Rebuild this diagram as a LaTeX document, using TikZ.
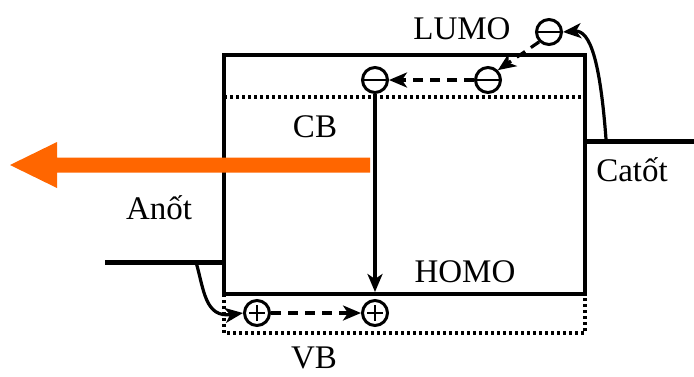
\documentclass[tikz,border=0pt]{standalone}
\usepackage{fontspec}
\setmainfont{Liberation Serif}
\usetikzlibrary{arrows.meta}
\begin{document}
\begin{tikzpicture}[x=1pt,y=-1pt,
  lbl/.style={inner sep=0pt,font=\fontsize{33}{36}\selectfont},
  boxline/.style={line width=3.4pt},
  wire/.style={line width=5pt},
  dots/.style={line width=3.2pt,dash pattern=on 3pt off 3pt},
  carrier/.style={circle,draw,line width=3pt,minimum size=25pt,inner sep=0pt},
  elec/.style={carrier,path picture={\draw[line width=2.6pt] ([xshift=-13pt]path picture bounding box.center) -- ([xshift=13pt]path picture bounding box.center);}},
  hole/.style={carrier,path picture={\draw[line width=2.4pt] ([xshift=-8pt]path picture bounding box.center) -- ([xshift=8pt]path picture bounding box.center) ([yshift=-8pt]path picture bounding box.center) -- ([yshift=8pt]path picture bounding box.center);}},
  tip/.style={-{Stealth[length=18pt,width=15pt,inset=5pt]}},
  dsh/.style={tip,line width=3.2pt,dash pattern=on 10pt off 7pt},
  sol/.style={tip,line width=3.2pt}]
\useasboundingbox (0,0) rectangle (694,376);
% box
\coordinate (tl) at (224,55);
\coordinate (br) at (585,294);
\draw[boxline] (tl) rectangle (br);
\coordinate (cbl) at (224,97);
\coordinate (cbr) at (585,97);
\draw[dots] (cbl) -- (cbr);
\coordinate (vbtl) at (224,294);
\coordinate (vbbr) at (585,333);
\draw[dots] (vbtl) -- (224,333) -- (585,333) -- (585,294);
% electrodes
\coordinate (catA) at (585,141);
\coordinate (catB) at (694,141);
\draw[wire] (catA) -- (catB);
\coordinate (anA) at (105,262);
\coordinate (anB) at (224,262);
\draw[wire] (anA) -- (anB);
% orange arrow
\fill[fill={rgb,255:red,255;green,102;blue,0}]
  (370,157.5) -- (57,157.5) -- (57,142) -- (10,165) -- (57,188) -- (57,172.5) -- (370,172.5) -- cycle;
% carriers
\node[elec] (e0) at (549,32) {};
\node[elec] (e1) at (488,80) {};
\node[elec] (e2) at (375,80) {};
\node[hole] (h1) at (257,313) {};
\node[hole] (h2) at (375,313) {};
\coordinate (homo) at (375,292);
\coordinate (catS) at (606,139);
\coordinate (anS) at (196,262);
% arrows
\draw[sol] (catS) .. controls (600,60) and (590,30) .. (e0.east);
\draw[dsh] (e0.south west) -- (e1.north east);
\draw[dsh] (e1.west) -- (e2.east);
\draw[sol] (e2.south) -- (homo);
\draw[sol] (anS) .. controls (204,290) and (205,318) .. (h1.west);
\draw[dsh] (h1.east) -- (h2.west);
% labels
\node[lbl] (lumo) at (462,29) {LUMO};
\node[lbl] (cb) at (315,127) {CB};
\node[lbl] (anot) at (159,208) {Anốt};
\node[lbl] (catot) at (632,170) {Catốt};
\node[lbl] (homot) at (465,272) {HOMO};
\node[lbl] (vb) at (314,358) {VB};
\end{tikzpicture}
\end{document}
